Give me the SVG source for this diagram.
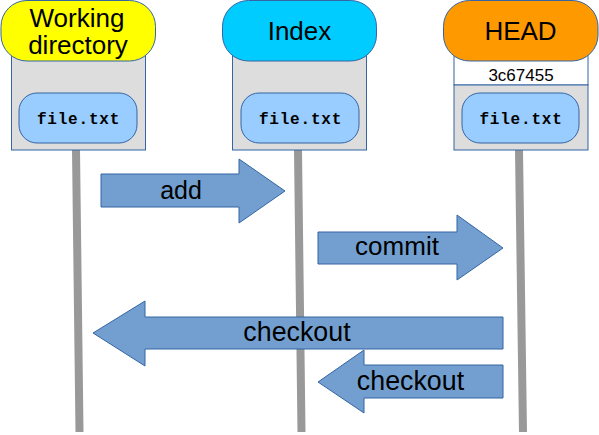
<svg xmlns="http://www.w3.org/2000/svg" width="599" height="435" viewBox="0 0 599 435">
<style>
.life{stroke:#999999;stroke-width:8;fill:none}
.box{fill:#dddddd;stroke:#3465a4;stroke-width:1}
.file{fill:#99ccff;stroke:#3465a4;stroke-width:1}
.ftxt{font-family:"Liberation Mono",monospace;font-weight:bold;font-size:16px;letter-spacing:0.8px;text-anchor:middle;fill:#000}
.title{font-family:"Liberation Sans",Arial,sans-serif;font-size:26px;text-anchor:middle;fill:#000}
.arrow{fill:#729fcf;stroke:#3465a4;stroke-width:1}
.lbl{font-family:"Liberation Sans",Arial,sans-serif;font-size:25px;text-anchor:middle;fill:#000}
.big{font-size:26.8px}
.mid{font-size:26px}
</style>
<g id="lifelines">
<line class="life" x1="76" y1="150" x2="79.5" y2="432"/>
<line class="life" x1="298" y1="150" x2="301.5" y2="432"/>
<line class="life" x1="519" y1="150" x2="523" y2="432"/>
</g>
<g id="working">
<rect class="box" x="11.5" y="50" width="134" height="100"/>
<rect x="1" y="0.5" width="154.5" height="60.5" rx="26" fill="#ffff00" stroke="#3465a4"/>
<text class="title" x="77" y="27">Working</text>
<text class="title" x="78" y="54">directory</text>
<rect class="file" x="19" y="93" width="118" height="50" rx="18"/>
<text class="ftxt" x="78.5" y="124">file.txt</text>
</g>
<g id="index">
<rect class="box" x="232.5" y="50" width="134" height="100"/>
<rect x="222.5" y="0.5" width="154" height="60.5" rx="26" fill="#00ccff" stroke="#3465a4"/>
<text class="title" x="299.5" y="40">Index</text>
<rect class="file" x="241" y="93" width="118" height="50" rx="18"/>
<text class="ftxt" x="300.5" y="124">file.txt</text>
</g>
<g id="head">
<rect x="454" y="50" width="134" height="35" fill="#ffffff" stroke="#3465a4"/>
<rect class="box" x="454" y="85" width="134" height="65"/>
<rect x="443.5" y="0.5" width="154.5" height="60.5" rx="26" fill="#ff9900" stroke="#3465a4"/>
<text class="title" x="520.5" y="40">HEAD</text>
<text x="521" y="81" font-family="Liberation Sans, Arial, sans-serif" font-size="17" text-anchor="middle">3c67455</text>
<rect class="file" x="462" y="93" width="117" height="50" rx="18"/>
<text class="ftxt" x="521" y="124">file.txt</text>
</g>
<g id="connectors">
<g id="add">
<polygon class="arrow" points="101,174 239,174 239,159 285,191 239,223 239,207 101,207"/>
<text class="lbl" x="181" y="199">add</text>
</g>
<g id="commit">
<polygon class="arrow" points="318,232 457,232 457,215 503,248 457,280 457,264 318,264"/>
<text class="lbl mid" x="397" y="255">commit</text>
</g>
<g id="checkout1">
<polygon class="arrow" points="503,317 145,317 145,301 93,333 145,366 145,349 503,349"/>
<text class="lbl big" x="297" y="341">checkout</text>
</g>
<g id="checkout2">
<polygon class="arrow" points="503,365 364,365 364,350 318,382 364,413 364,398 503,398"/>
<text class="lbl big" x="410.5" y="390">checkout</text>
</g>
</g>
</svg>
